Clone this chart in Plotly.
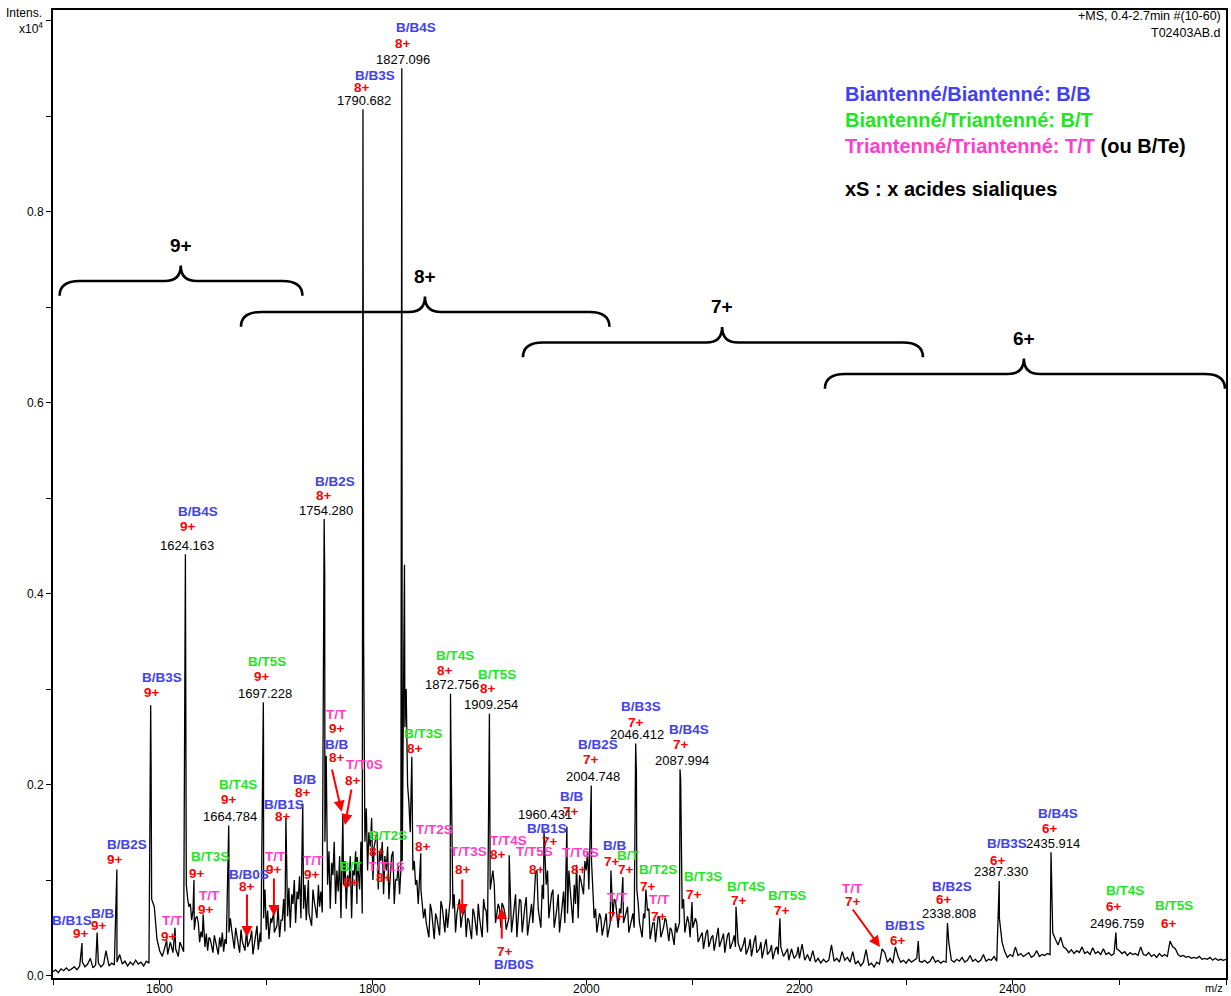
import numpy as np
import plotly.graph_objects as go

# ---------------------------------------------------------------------------
# Spectrum data (intensity expressed in units of 1e4 counts)
# ---------------------------------------------------------------------------
PROFILE_START = 1500.0   # m/z of first profile sample
PROFILE_STEP = 2.5       # m/z between profile samples

# Sampled profile (noise floor + small features), in thousandths of 1e4 counts.
# One row = 20 samples = 50 m/z.
profile_milli = [
    4, 6, 3, 7, 5, 8, 5, 7, 9, 6, 10, 14, 9, 12, 18, 8, 11, 13, 9, 12,              # 1500
    24, 10, 13, 11, 14, 22, 12, 15, 10, 14, 11, 16, 12, 14, 10, 15, 13, 80, 72, 38,  # 1550
    26, 20, 30, 22, 35, 24, 28, 20, 32, 25, 95, 72, 58, 48, 62, 35, 40, 30, 26, 38,  # 1600
    24, 34, 22, 30, 25, 33, 45, 48, 28, 40, 24, 36, 26, 30, 38, 22, 42, 27, 35, 60,  # 1650
    48, 38, 55, 45, 52, 40, 58, 46, 62, 50, 75, 55, 80, 60, 70, 58, 65, 52, 78, 60,  # 1700
    72, 66, 140, 95, 70, 105, 75, 88, 60, 95, 70, 95, 60, 105, 75, 90, 65, 140, 110, 135,  # 1750
    100, 145, 90, 120, 85, 110, 80, 125, 75, 100, 85, 120, 260, 200, 150, 110, 95, 75, 90, 60,  # 1800
    55, 40, 68, 38, 60, 42, 72, 45, 50, 80, 70, 45, 72, 50, 66, 40, 58, 38, 65, 42,  # 1850
    60, 40, 70, 45, 90, 110, 55, 75, 50, 72, 48, 60, 45, 70, 40, 80, 45, 72, 42, 65,  # 1900
    55, 108, 70, 50, 80, 95, 60, 85, 50, 70, 45, 78, 55, 65, 90, 55, 75, 60, 100, 85,  # 1950
    110, 90, 120, 60, 45, 65, 42, 60, 40, 55, 62, 78, 50, 65, 55, 68, 45, 60, 50, 90,  # 2000
    55, 40, 60, 68, 38, 55, 35, 62, 40, 50, 58, 36, 48, 32, 45, 55, 70, 45, 62, 40,  # 2050
    50, 60, 35, 42, 28, 45, 30, 40, 26, 44, 30, 38, 24, 42, 28, 36, 30, 34, 25, 33,  # 2100
    22, 30, 20, 36, 24, 28, 18, 32, 22, 26, 17, 28, 22, 30, 20, 25, 16, 28, 18, 22,  # 2150
    18, 33, 16, 22, 15, 26, 14, 18, 13, 17, 14, 16, 32, 15, 18, 14, 25, 16, 19, 14,  # 2200
    25, 12, 15, 10, 14, 27, 11, 13, 9, 14, 12, 28, 24, 14, 18, 13, 30, 20, 14, 16,   # 2250
    13, 17, 14, 16, 18, 15, 14, 16, 13, 15, 20, 14, 16, 13, 15, 14, 35, 16, 14, 17,  # 2300
    15, 19, 14, 16, 21, 15, 17, 14, 16, 22, 15, 17, 16, 20, 15, 60, 35, 25, 19, 22,  # 2350
    20, 30, 21, 23, 20, 22, 24, 19, 21, 26, 20, 22, 21, 23, 22, 45, 38, 32, 40, 30,  # 2400
    28, 24, 27, 23, 26, 24, 30, 23, 25, 22, 29, 23, 25, 22, 28, 22, 24, 21, 23, 28,  # 2450
    26, 23, 25, 21, 24, 22, 23, 21, 30, 22, 21, 24, 20, 22, 19, 23, 20, 22, 20, 36,  # 2500
    30, 28, 22, 20, 21, 19, 20, 18, 19, 18, 20, 17, 18, 17, 19, 16, 18, 16, 17, 16, 17,  # 2550-2600
]

# Annotated peaks (m/z printed on the chart) and their apex intensities
labeled_mz = [1624.163, 1664.784, 1697.228, 1754.280, 1790.682, 1827.096,
              1872.756, 1909.254, 1960.431, 2004.748, 2046.412, 2087.994,
              2338.808, 2387.330, 2435.914, 2496.759]
labeled_int = [0.441, 0.157, 0.286, 0.478, 0.907, 0.950,
               0.295, 0.274, 0.152, 0.199, 0.243, 0.216,
               0.055, 0.099, 0.129, 0.045]

# Other peak apexes (m/z, intensity)
peak_mz = [
    1527.2, 1541.4, 1549.7, 1559.9, 1591.6, 1592.0, 1606.6, 1614.4, 1619.0,
    1624.6, 1626.3, 1628.8, 1631.3, 1632.2, 1633.8, 1636.3, 1638.8, 1640.8,
    1643.8, 1646.3, 1651.3, 1656.3, 1658.8, 1661.3, 1664.95, 1666.3, 1671.3,
    1676.3, 1681.6, 1686.3, 1691.3, 1694.3, 1697.4, 1698.8,
    1701.3, 1704.2, 1707.0, 1711.1, 1713.8, 1716.3, 1718.4, 1721.2, 1723.9,
    1726.3, 1728.9, 1731.2, 1734.2, 1736.3, 1739.5, 1743.8, 1748.9, 1751.2,
    1754.8, 1756.2, 1758.8, 1761.3, 1763.7, 1766.2, 1768.8, 1771.8, 1773.8,
    1776.2, 1778.8, 1781.2, 1783.8, 1785.3, 1788.8, 1791.3, 1793.8, 1796.2,
    1798.8, 1801.2, 1803.8, 1806.2, 1808.8, 1811.2, 1813.8, 1816.2, 1818.8,
    1821.2, 1823.8, 1826.2, 1829.6, 1831.2, 1833.8, 1836.5, 1838.8, 1841.2,
    1844.9, 1848.8, 1853.8, 1858.8, 1863.8, 1868.8, 1873.2, 1876.2, 1878.8,
    1881.2, 1883.8, 1886.2, 1888.8, 1893.8, 1898.8, 1903.8, 1906.2, 1909.7,
    1913.8, 1918.8, 1921.0, 1923.8, 1927.8, 1933.8, 1938.8, 1943.8, 1948.8,
    1953.8, 1958.8, 1963.8, 1968.8, 1973.8, 1978.8, 1981.9, 1983.8, 1988.8,
    1991.0, 1993.8, 1998.8, 2001.3, 2008.8, 2013.8, 2018.8, 2023.2, 2026.3,
    2031.3, 2034.4, 2038.8, 2043.8, 2047.1, 2048.8, 2053.8, 2056.0, 2058.8,
    2063.8, 2068.8, 2074.0, 2078.8, 2083.8, 2088.6, 2091.3, 2096.3, 2099.2,
    2103.8, 2108.8, 2113.8, 2118.8, 2123.8, 2128.8, 2133.8, 2138.8, 2140.5,
    2148.8, 2153.8, 2158.8, 2163.8, 2168.8, 2173.8, 2178.8, 2181.7, 2188.8,
    2198.8, 2311.4, 2436.4,
]
peak_int = [
    0.034, 0.045, 0.026, 0.111, 0.283, 0.220, 0.037, 0.050, 0.035,
    0.340, 0.080, 0.075, 0.068, 0.100, 0.060, 0.055, 0.046, 0.064,
    0.044, 0.040, 0.042, 0.040, 0.045, 0.038, 0.140, 0.060, 0.050,
    0.048, 0.050, 0.047, 0.052, 0.045, 0.250, 0.090,
    0.068, 0.060, 0.066, 0.072, 0.058, 0.080, 0.165, 0.092, 0.085,
    0.100, 0.088, 0.104, 0.180, 0.095, 0.100, 0.090, 0.095, 0.088,
    0.420, 0.230, 0.130, 0.118, 0.140, 0.110, 0.125, 0.168, 0.120,
    0.105, 0.125, 0.110, 0.130, 0.124, 0.140, 0.350, 0.175, 0.150,
    0.165, 0.135, 0.150, 0.130, 0.140, 0.125, 0.135, 0.110, 0.130,
    0.100, 0.115, 0.110, 0.430, 0.300, 0.180, 0.229, 0.120, 0.100,
    0.128, 0.070, 0.075, 0.065, 0.078, 0.070, 0.240, 0.085, 0.065,
    0.080, 0.062, 0.072, 0.060, 0.070, 0.075, 0.080, 0.068, 0.190,
    0.095, 0.070, 0.076, 0.065, 0.126, 0.085, 0.078, 0.082, 0.075,
    0.110, 0.095, 0.110, 0.090, 0.085, 0.088, 0.156, 0.110, 0.095,
    0.116, 0.105, 0.120, 0.130, 0.070, 0.060, 0.065, 0.110, 0.080,
    0.070, 0.103, 0.072, 0.065, 0.212, 0.075, 0.065, 0.090, 0.070,
    0.055, 0.060, 0.060, 0.050, 0.055, 0.205, 0.080, 0.055, 0.077,
    0.055, 0.045, 0.048, 0.042, 0.050, 0.044, 0.045, 0.042, 0.072,
    0.040, 0.038, 0.042, 0.035, 0.038, 0.032, 0.030, 0.060, 0.028,
    0.030, 0.036, 0.100,
]

# Charge-state envelopes: label, first m/z, centre m/z, last m/z
envelope_label = ["9+", "8+", "7+", "6+"]
envelope_lo = [1506.2, 1676.3, 1940.7, 2223.9]
envelope_mid = [1619.8, 1848.8, 2127.5, 2410.5]
envelope_hi = [1733.9, 2021.8, 2315.8, 2599.0]

# Axis ticks
x_ticks = list(range(1500, 2601, 100))
x_tick_labels = [1600, 1800, 2000, 2200, 2400]
y_ticks = [round(0.1 * i, 1) for i in range(11)]
y_tick_labels = [0.0, 0.2, 0.4, 0.6, 0.8]

# ---------------------------------------------------------------------------
# Styling / layout tables
# ---------------------------------------------------------------------------
FONT = "Liberation Sans, Arial, Helvetica, sans-serif"
COLORS = {"BB": "#4141f0", "BT": "#1fe61f", "TT": "#ff3ec8", "z": "#ff0000"}

# glycoform name / charge lines placed around the peaks: (text, kind, m/z, y)
LABEL_LINES = [
    ("B/B1S", "BB", 1517.8, 0.0581), ("9+", "z", 1525.8, 0.0445),
    ("B/B", "BB", 1546.9, 0.0654), ("9+", "z", 1542.7, 0.0529),
    ("B/B2S", "BB", 1569.4, 0.1377), ("9+", "z", 1558.1, 0.1215),
    ("B/B3S", "BB", 1601.9, 0.3118), ("9+", "z", 1592.6, 0.2961),
    ("B/B4S", "BB", 1636.0, 0.4857), ("9+", "z", 1626.9, 0.4699),
    ("T/T", "TT", 1611.6, 0.0574), ("9+", "z", 1608.8, 0.0406),
    ("B/T3S", "BT", 1647.2, 0.1244), ("9+", "z", 1635.5, 0.1070),
    ("T/T", "TT", 1646.3, 0.0843), ("9+", "z", 1643.5, 0.0693),
    ("B/T4S", "BT", 1673.5, 0.2002), ("9+", "z", 1665.0, 0.1838),
    ("B/T5S", "BT", 1700.5, 0.3286), ("9+", "z", 1695.7, 0.3129),
    ("B/B0S", "BB", 1683.8, 0.1063), ("8+", "z", 1681.9, 0.0937),
    ("T/T", "TT", 1709.1, 0.1244), ("9+", "z", 1707.2, 0.1112),
    ("B/B1S", "BB", 1716.3, 0.1796), ("8+", "z", 1715.7, 0.1670),
    ("B/B", "BB", 1736.0, 0.2054), ("8+", "z", 1734.0, 0.1914),
    ("T/T", "TT", 1744.5, 0.1209), ("9+", "z", 1742.9, 0.1063),
    ("B/B2S", "BB", 1764.9, 0.5178), ("8+", "z", 1753.7, 0.5031),
    ("T/T", "TT", 1766.3, 0.2735), ("9+", "z", 1766.1, 0.2588),
    ("B/B", "BB", 1766.3, 0.2421), ("8+", "z", 1766.3, 0.2281),
    ("T/T0S", "TT", 1792.3, 0.2212), ("8+", "z", 1781.6, 0.2040),
    ("B/B3S", "BB", 1801.9, 0.9419), ("8+", "z", 1790.2, 0.9301),
    ("B/B4S", "BB", 1840.4, 0.9929), ("8+", "z", 1828.2, 0.9761),
    ("B/T", "BT", 1780.1, 0.1139), ("8+", "z", 1779.0, 0.0972),
    ("B/T2S", "BT", 1814.4, 0.1464), ("8+", "z", 1804.3, 0.1296),
    ("T/T1S", "TT", 1812.5, 0.1139), ("8+", "z", 1810.4, 0.1028),
    ("B/T3S", "BT", 1846.5, 0.2529), ("8+", "z", 1839.0, 0.2372),
    ("T/T2S", "TT", 1857.9, 0.1531), ("8+", "z", 1846.5, 0.1349),
    ("B/T4S", "BT", 1877.4, 0.3356), ("8+", "z", 1867.6, 0.3199),
    ("B/T5S", "BT", 1916.3, 0.3157), ("8+", "z", 1907.9, 0.3007),
    ("T/T3S", "TT", 1889.2, 0.1296), ("8+", "z", 1884.8, 0.1105),
    ("T/T4S", "TT", 1927.6, 0.1419), ("8+", "z", 1917.6, 0.1262),
    ("B/B0S", "BB", 1932.3, 0.0120), ("7+", "z", 1924.3, 0.0249),
    ("T/T5S", "TT", 1951.7, 0.1296), ("8+", "z", 1953.6, 0.1105),
    ("B/B1S", "BB", 1963.0, 0.1541), ("7+", "z", 1966.0, 0.1401),
    ("B/B", "BB", 1986.4, 0.1872), ("7+", "z", 1985.3, 0.1715),
    ("T/T6S", "TT", 1995.1, 0.1290), ("8+", "z", 1993.2, 0.1115),
    ("B/B2S", "BB", 2011.3, 0.2414), ("7+", "z", 2004.5, 0.2257),
    ("B/B3S", "BB", 2051.7, 0.2815), ("7+", "z", 2046.5, 0.2647),
    ("B/B4S", "BB", 2096.4, 0.2571), ("7+", "z", 2088.9, 0.2414),
    ("B/B", "BB", 2026.7, 0.1359), ("7+", "z", 2024.6, 0.1192),
    ("B/T", "BT", 2039.9, 0.1254), ("7+", "z", 2037.6, 0.1105),
    ("T/T", "TT", 2028.9, 0.0819), ("7+", "z", 2027.9, 0.0623),
    ("B/T2S", "BT", 2067.8, 0.1110), ("7+", "z", 2057.5, 0.0937),
    ("T/T", "TT", 2068.9, 0.0791), ("7+", "z", 2068.3, 0.0616),
    ("B/T3S", "BT", 2109.5, 0.1042), ("7+", "z", 2101.5, 0.0853),
    ("B/T4S", "BT", 2150.3, 0.0937), ("7+", "z", 2143.3, 0.0783),
    ("B/T5S", "BT", 2188.3, 0.0843), ("7+", "z", 2183.6, 0.0686),
    ("T/T", "TT", 2250.2, 0.0913), ("7+", "z", 2249.9, 0.0773),
    ("B/B1S", "BB", 2298.9, 0.0521), ("6+", "z", 2292.6, 0.0364),
    ("B/B2S", "BB", 2343.5, 0.0930), ("6+", "z", 2335.5, 0.0791),
    ("B/B3S", "BB", 2394.6, 0.1384), ("6+", "z", 2386.1, 0.1209),
    ("B/B4S", "BB", 2442.7, 0.1698), ("6+", "z", 2435.4, 0.1541),
    ("B/T4S", "BT", 2505.2, 0.0895), ("6+", "z", 2494.7, 0.0720),
    ("B/T5S", "BT", 2551.7, 0.0728), ("6+", "z", 2546.5, 0.0547),
]

# m/z value labels sit this many pixels above their apex (exceptions listed)
VALUE_LABEL_SHIFT = 9
VALUE_LABEL_SHIFT_EXTRA = {1960.431: 16}

# red arrows: (tail m/z, tail y) -> (head m/z, head y)
ARROWS = [
    ((1681.9, 0.0864), (1681.9, 0.0403)),
    ((1707.2, 0.1031), (1707.2, 0.0623)),
    ((1761.3, 0.2173), (1770.7, 0.1715)),
    ((1780.1, 0.1963), (1773.8, 0.1576)),
    ((1883.8, 0.1021), (1883.8, 0.0634)),
    ((1920.8, 0.0372), (1920.8, 0.0707)),
    ((2249.0, 0.0707), (2275.5, 0.0299)),
]

# brace geometry (intensity levels of bar for each envelope)
BRACE_BAR_Y = [0.7272, 0.6948, 0.6628, 0.6298]
BRACE_DROP = 0.0155
BRACE_RISE = 0.0163
BRACE_END_R = 18.8
BRACE_MID_R = 15.0

# positions (paper fractions) of text sitting outside the plotting area
X_TICKLABEL_PAPER_Y = -0.0114
MZ_CAPTION_PAPER_Y = -0.0105
INTENS_PAPER_X = -0.0077
INTENS_PAPER_Y = 0.9969
SCALE_PAPER_Y = 0.9814

# ---------------------------------------------------------------------------
# Build the profile trace
# ---------------------------------------------------------------------------
grid_mz = PROFILE_START + PROFILE_STEP * np.arange(len(profile_milli))
all_mz = np.concatenate([grid_mz, np.array(labeled_mz), np.array(peak_mz)])
all_int = np.concatenate([np.array(profile_milli) / 1000.0,
                          np.array(labeled_int), np.array(peak_int)])
order = np.argsort(all_mz, kind="stable")
all_mz = all_mz[order]
all_int = all_int[order]

fig = go.Figure()
fig.add_trace(go.Scatter(
    x=all_mz, y=all_int, mode="lines",
    line=dict(color="black", width=1.3),
    hoverinfo="skip", showlegend=False,
))

annotations = []

# glycoform names and charges
for text, kind, x, y in LABEL_LINES:
    annotations.append(dict(
        x=x, y=y, xref="x", yref="y", text=f"<b>{text}</b>", showarrow=False,
        xanchor="center", yanchor="middle",
        font=dict(family=FONT, size=13.5, color=COLORS[kind]),
    ))

# m/z values above the labelled apexes
for m, h in zip(labeled_mz, labeled_int):
    annotations.append(dict(
        x=m, y=h, xref="x", yref="y", text=f"{m:.3f}", showarrow=False,
        xanchor="center", yanchor="middle", xshift=1.5,
        yshift=VALUE_LABEL_SHIFT_EXTRA.get(m, VALUE_LABEL_SHIFT),
        font=dict(family=FONT, size=13, color="black"),
    ))

# arrows
for (tx, ty), (hx, hy) in ARROWS:
    annotations.append(dict(
        x=hx, y=hy, ax=tx, ay=ty, xref="x", yref="y", axref="x", ayref="y",
        text="", showarrow=True, arrowhead=2, arrowsize=1.1, arrowwidth=2,
        arrowcolor="#ff0000", standoff=0, startstandoff=0,
    ))

# charge envelope braces
shapes = []
for lab, x0, xc, x1, yb in zip(envelope_label, envelope_lo, envelope_mid,
                               envelope_hi, BRACE_BAR_Y):
    ye = yb - BRACE_DROP
    yt = yb + BRACE_RISE
    r, rc = BRACE_END_R, BRACE_MID_R
    path = (f"M {x0},{ye} Q {x0},{yb} {x0 + r},{yb} "
            f"L {xc - rc},{yb} Q {xc},{yb} {xc},{yt} "
            f"Q {xc},{yb} {xc + rc},{yb} "
            f"L {x1 - r},{yb} Q {x1},{yb} {x1},{ye}")
    shapes.append(dict(type="path", path=path, xref="x", yref="y",
                       line=dict(color="black", width=2.6)))
    annotations.append(dict(
        x=xc, y=yt, xref="x", yref="y", text=f"<b>{lab}</b>", showarrow=False,
        xanchor="center", yanchor="middle", yshift=20,
        font=dict(family=FONT, size=19, color="black"),
    ))

# key in the upper right
key_lines = [
    ("<b>Biantenné/Biantenné: B/B</b>", COLORS["BB"], 0.9230),
    ("<b>Biantenné/Triantenné: B/T</b>", COLORS["BT"], 0.8963),
    (f"<b><span style='color:{COLORS['TT']}'>Triantenné/Triantenné: T/T</span>"
     f" (ou B/Te)</b>", "black", 0.8686),
    ("<b>xS : x acides sialiques</b>", "black", 0.8236),
]
for text, col, y in key_lines:
    annotations.append(dict(
        x=2240.5, y=y, xref="x", yref="y", text=text, showarrow=False,
        xanchor="left", yanchor="middle",
        font=dict(family=FONT, size=20, color=col),
    ))

# m/z tick labels, written just under the axis
tick_font = dict(family=FONT, size=12, color="black")
for v in x_tick_labels:
    annotations.append(dict(
        x=v, y=X_TICKLABEL_PAPER_Y, xref="x", yref="paper", text=str(v),
        showarrow=False, xanchor="center", yanchor="middle", font=tick_font,
    ))

# acquisition info, axis captions
small = dict(family=FONT, size=12.5, color="black")
annotations += [
    dict(x=2597.5, y=1.0047, xref="x", yref="y", text="+MS, 0.4-2.7min #(10-60)",
         showarrow=False, xanchor="right", yanchor="middle", font=small),
    dict(x=2597.5, y=0.9864, xref="x", yref="y", text="T02403AB.d",
         showarrow=False, xanchor="right", yanchor="middle", font=small),
    dict(x=INTENS_PAPER_X, y=INTENS_PAPER_Y, xref="paper", yref="paper",
         text="Intens.", showarrow=False, xanchor="right", yanchor="middle",
         font=tick_font),
    dict(x=INTENS_PAPER_X + 0.0008, y=SCALE_PAPER_Y, xref="paper", yref="paper",
         text="x10<sup>4</sup>", showarrow=False, xanchor="right",
         yanchor="middle", font=tick_font),
    dict(x=2599.0, y=MZ_CAPTION_PAPER_Y, xref="x", yref="paper", text="m/z",
         showarrow=False, xanchor="right", yanchor="middle",
         font=dict(family=FONT, size=11, color="black")),
]

y_text = [f"{v:.1f}" if v in y_tick_labels else "" for v in y_ticks]

fig.update_layout(
    width=1231, height=996,
    margin=dict(l=53, r=5, t=10, b=18, autoexpand=False),
    paper_bgcolor="white", plot_bgcolor="white",
    font=dict(family=FONT, size=12, color="black"),
    showlegend=False,
    xaxis=dict(
        range=[1500, 2600], tickmode="array", tickvals=x_ticks,
        showticklabels=False,
        ticks="outside", ticklen=5, tickwidth=1.2, tickcolor="black",
        showline=True, linecolor="black", linewidth=2, mirror=True,
        showgrid=False, zeroline=False, automargin=False,
    ),
    yaxis=dict(
        range=[-0.0026, 1.011], tickmode="array", tickvals=y_ticks, ticktext=y_text,
        ticks="outside", ticklen=5, tickwidth=1.2, tickcolor="black",
        showline=True, linecolor="black", linewidth=2, mirror=True,
        showgrid=False, zeroline=False, automargin=False,
        tickfont=tick_font,
    ),
    annotations=annotations,
    shapes=shapes,
)

fig.write_html("out.html")
